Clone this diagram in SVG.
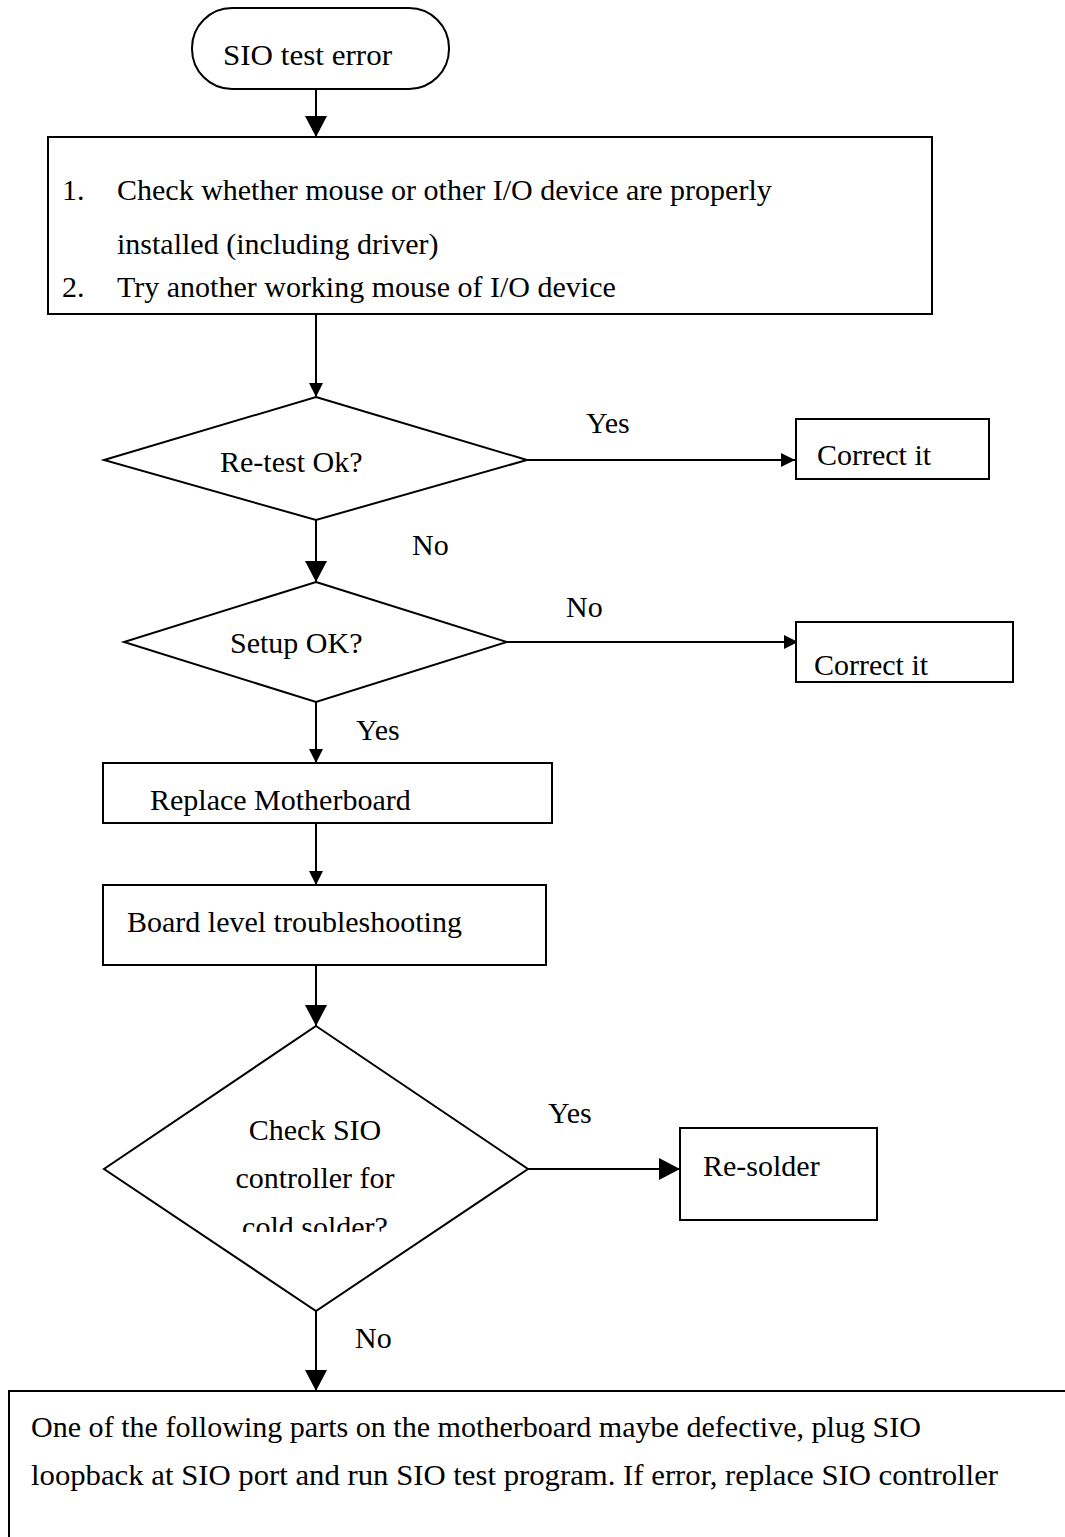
<svg xmlns="http://www.w3.org/2000/svg" width="1065" height="1537" viewBox="0 0 1065 1537">
<style>
  .shape { fill: #ffffff; stroke: #000000; stroke-width: 2; }
  .line { fill: none; stroke: #000000; stroke-width: 2; }
  .t { font-family: "Liberation Serif", "Times New Roman", serif; font-size: 30px; fill: #000000; }
  .c { text-anchor: middle; }
</style>
<defs>
  <marker id="arrSmall" markerUnits="userSpaceOnUse" markerWidth="14" markerHeight="14" refX="14" refY="7" orient="auto">
    <path d="M0,0 L14,7 L0,14 z" fill="#000000"/>
  </marker>
  <marker id="arrBig" markerUnits="userSpaceOnUse" markerWidth="21" markerHeight="22" refX="21" refY="11" orient="auto">
    <path d="M0,0 L21,11 L0,22 z" fill="#000000"/>
  </marker>
  <clipPath id="clipD3">
    <rect x="0" y="0" width="1065" height="1232"/>
  </clipPath>
</defs>
<rect x="0" y="0" width="1065" height="1537" fill="#ffffff"/>

<g id="connectors">
  <line class="line" x1="316" y1="89" x2="316" y2="137" marker-end="url(#arrBig)"/>
  <line class="line" x1="316" y1="314" x2="316" y2="397" marker-end="url(#arrSmall)"/>
  <line class="line" x1="527" y1="460" x2="795" y2="460" marker-end="url(#arrSmall)"/>
  <line class="line" x1="316" y1="520" x2="316" y2="582" marker-end="url(#arrBig)"/>
  <line class="line" x1="507" y1="642" x2="798" y2="642" marker-end="url(#arrSmall)"/>
  <line class="line" x1="316" y1="702" x2="316" y2="763" marker-end="url(#arrSmall)"/>
  <line class="line" x1="316" y1="823" x2="316" y2="885" marker-end="url(#arrSmall)"/>
  <line class="line" x1="316" y1="965" x2="316" y2="1026" marker-end="url(#arrBig)"/>
  <line class="line" x1="528" y1="1169" x2="680" y2="1169" marker-end="url(#arrBig)"/>
  <line class="line" x1="316" y1="1311" x2="316" y2="1391" marker-end="url(#arrBig)"/>
  <text class="t" x="586" y="433">Yes</text>
  <text class="t" x="412" y="555">No</text>
  <text class="t" x="566" y="617">No</text>
  <text class="t" x="356" y="740">Yes</text>
  <text class="t" x="548" y="1123">Yes</text>
  <text class="t" x="355" y="1348">No</text>
</g>

<g id="start">
  <rect class="shape" x="192" y="8" width="257" height="81" rx="40" ry="40"/>
  <text class="t" x="223" y="65" textLength="169" lengthAdjust="spacingAndGlyphs">SIO test error</text>
</g>

<g id="check-devices">
  <rect class="shape" x="48" y="137" width="884" height="177"/>
  <text class="t" x="62" y="200">1.</text>
  <text class="t" x="117" y="200">Check whether mouse or other I/O device are properly</text>
  <text class="t" x="117" y="254">installed (including driver)</text>
  <text class="t" x="62" y="297">2.</text>
  <text class="t" x="117" y="297">Try another working mouse of I/O device</text>
</g>

<g id="retest-ok">
  <polygon class="shape" points="316,397 527,460 316,520 104,460"/>
  <text class="t" x="220" y="472">Re-test Ok?</text>
</g>

<g id="correct-it-1">
  <rect class="shape" x="796" y="419" width="193" height="60"/>
  <text class="t" x="817" y="465">Correct it</text>
</g>

<g id="setup-ok">
  <polygon class="shape" points="316,582 507,642 316,702 124,642"/>
  <text class="t" x="230" y="653">Setup OK?</text>
</g>

<g id="correct-it-2">
  <rect class="shape" x="796" y="622" width="217" height="60"/>
  <text class="t" x="814" y="675">Correct it</text>
</g>

<g id="replace-motherboard">
  <rect class="shape" x="103" y="763" width="449" height="60"/>
  <text class="t" x="150" y="810">Replace Motherboard</text>
</g>

<g id="board-level">
  <rect class="shape" x="103" y="885" width="443" height="80"/>
  <text class="t" x="127" y="932">Board level troubleshooting</text>
</g>

<g id="check-sio">
  <polygon class="shape" points="316,1026 528,1169 316,1311 104,1169"/>
  <text class="t c" x="315" y="1140">Check SIO</text>
  <text class="t c" x="315" y="1188">controller for</text>
  <text class="t c" x="315" y="1237" clip-path="url(#clipD3)">cold solder?</text>
</g>

<g id="re-solder">
  <rect class="shape" x="680" y="1128" width="197" height="92"/>
  <text class="t" x="703" y="1176">Re-solder</text>
</g>

<g id="defective-parts">
  <rect class="shape" x="9" y="1391" width="1100" height="200"/>
  <text class="t" x="31" y="1437" textLength="890" lengthAdjust="spacingAndGlyphs">One of the following parts on the motherboard maybe defective, plug SIO</text>
  <text class="t" x="31" y="1485" textLength="967" lengthAdjust="spacingAndGlyphs">loopback at SIO port and run SIO test program. If error, replace SIO controller</text>
</g>
</svg>
